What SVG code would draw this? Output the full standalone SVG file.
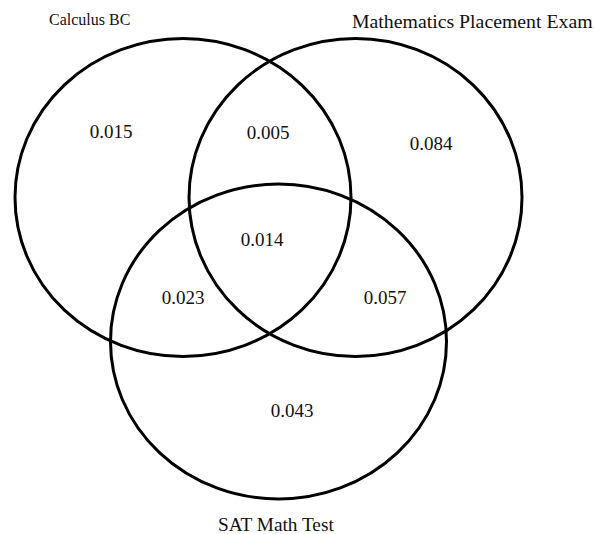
<svg xmlns="http://www.w3.org/2000/svg" width="594" height="534" viewBox="0 0 594 534">
<style>
.c{fill:none;stroke:#000;stroke-width:3}
.t{font-family:"Liberation Serif","Times New Roman",serif;fill:#111}
.n{font-size:19px;text-anchor:middle}
</style>
<rect width="594" height="534" fill="#fff"/>
<g id="calculus-bc">
<ellipse class="c" cx="183" cy="197.5" rx="168" ry="159"/>
<text class="t" x="49" y="25" font-size="16">Calculus BC</text>
</g>
<g id="math-placement-exam">
<ellipse class="c" cx="355.5" cy="197.5" rx="166.5" ry="159"/>
<text class="t" x="352" y="27.5" font-size="19.8">Mathematics Placement Exam</text>
</g>
<g id="sat-math-test">
<ellipse class="c" cx="278.5" cy="341.5" rx="168" ry="157.5"/>
<text class="t" x="218" y="530.5" font-size="19.3">SAT Math Test</text>
</g>
<g id="values">
<text class="t n" x="111" y="138">0.015</text>
<text class="t n" x="268" y="139">0.005</text>
<text class="t n" x="431" y="150">0.084</text>
<text class="t n" x="262" y="246">0.014</text>
<text class="t n" x="183" y="304">0.023</text>
<text class="t n" x="385" y="304">0.057</text>
<text class="t n" x="292" y="417">0.043</text>
</g>
<g id="connectors"/>
</svg>
